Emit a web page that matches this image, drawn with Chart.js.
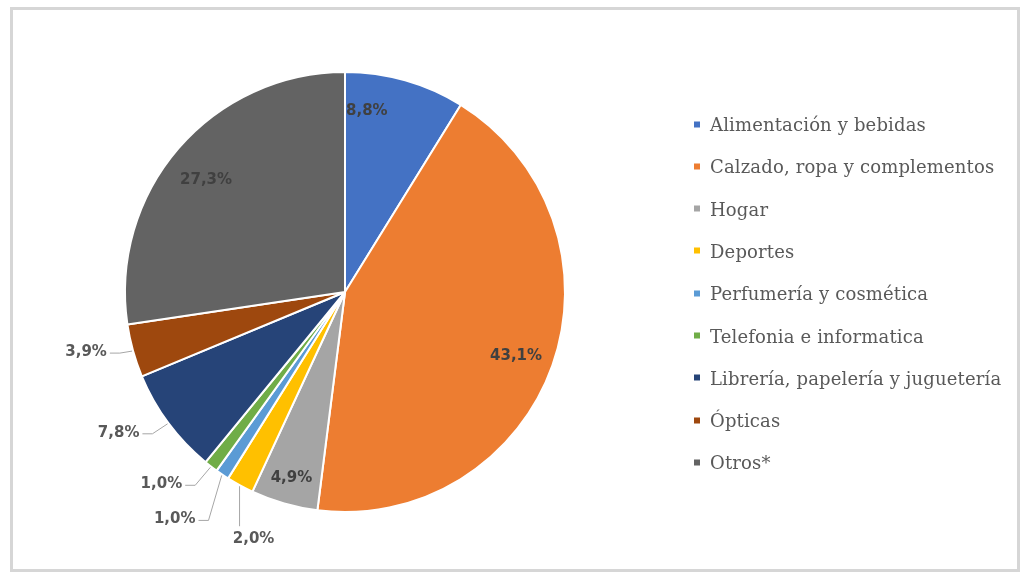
<!DOCTYPE html>
<html>
<head>
<meta charset="utf-8">
<script src="https://cdn.jsdelivr.net/npm/chart.js@4.4.1/dist/chart.umd.min.js"></script>
<style>
  html, body { margin: 0; padding: 0; background: #fff; }
  #wrap { position: relative; width: 1023px; height: 574px; overflow: hidden; background: #fff; }
  #frame { position: absolute; left: 10px; top: 7px; width: 1010px; height: 565px;
           box-sizing: border-box; border: 3px solid #d6d6d6; }
  #chart { position: absolute; left: 0; top: 0; }
  #legend { position: absolute; left: 694px; top: 0; font-family: "DejaVu Serif", serif;
            font-size: 18px; letter-spacing: 0.15px; color: #595959; }
  .item { position: absolute; left: 0; white-space: nowrap; display: flex; align-items: center;
          transform: translateY(-50%); }
  .sw { width: 6px; height: 6px; margin-right: 10px; flex: none; }
</style>
</head>
<body>
<div id="wrap">
  <div id="frame"></div>
  <canvas id="chart" width="1023" height="574"></canvas>
  <div id="legend"></div>
</div>
<script>
// Share of sales by retail sector (%)
const categories = [
  'Alimentación y bebidas',
  'Calzado, ropa y complementos',
  'Hogar',
  'Deportes',
  'Perfumería y cosmética',
  'Telefonia e informatica',
  'Librería, papelería y juguetería',
  'Ópticas',
  'Otros*'
];
const shares = [8.8, 43.1, 4.9, 2.0, 1.0, 1.0, 7.8, 3.9, 27.3];
const sliceColors = ['#4472C4', '#ED7D31', '#A5A5A5', '#FFC000', '#5B9BD5',
                     '#70AD47', '#264478', '#9E480E', '#636363'];

// Spanish-style percent text: 8.8 -> "8,8%"
const pct = v => v.toFixed(1).replace('.', ',') + '%';

// Where each value label goes: inside the slice (fraction of radius, small angle nudge in degrees)
// or outside, offset from the slice's outer edge with a leader line.
const labelPlacement = [
  { inside: true, r: 0.83, turn: -9 },
  { inside: true, r: 0.83, turn: 1 },
  { inside: true, r: 0.88, turn: 0 },
  { dx: 14, dy: 53 },
  { dx: -47, dy: 44 },
  { dx: -49, dy: 17 },
  { dx: -49, dy: 9 },
  { dx: -46, dy: 1 },
  { inside: true, r: 0.81, turn: -2 }
];

const sliceLabels = {
  id: 'sliceLabels',
  afterDatasetsDraw(chart) {
    const ctx = chart.ctx;
    const meta = chart.getDatasetMeta(0);
    ctx.save();
    ctx.font = 'bold 15px "DejaVu Sans"';
    ctx.textBaseline = 'middle';
    ctx.textAlign = 'center';
    meta.data.forEach((arc, i) => {
      const p = arc.getProps(['x', 'y', 'startAngle', 'endAngle', 'outerRadius'], true);
      const mid = (p.startAngle + p.endAngle) / 2;
      const place = labelPlacement[i];
      const text = pct(shares[i]);
      if (place.inside) {
        const a = mid + place.turn * Math.PI / 180;
        const r = p.outerRadius * place.r;
        ctx.fillStyle = '#404040';
        ctx.fillText(text, p.x + Math.cos(a) * r, p.y + Math.sin(a) * r);
        return;
      }
      const ax = p.x + Math.cos(mid) * (p.outerRadius + 1);
      const ay = p.y + Math.sin(mid) * (p.outerRadius + 1);
      const tx = ax + place.dx;
      const ty = ay + place.dy;
      const w = ctx.measureText(text).width;
      ctx.strokeStyle = '#a6a6a6';
      ctx.lineWidth = 1;
      ctx.beginPath();
      if (Math.abs(place.dx) < 20) {
        // label below the slice: straight drop to the text
        ctx.moveTo(ax, ay);
        ctx.lineTo(ax, ty - 13);
      } else {
        const ex = tx + w / 2 + 3;
        const ey = ty + 1;
        ctx.moveTo(ax, ay);
        ctx.lineTo(Math.min(ax, ex + 10), ey);
        ctx.lineTo(ex, ey);
      }
      ctx.stroke();
      ctx.fillStyle = '#595959';
      ctx.fillText(text, tx, ty);
    });
    ctx.restore();
  }
};

new Chart(document.getElementById('chart'), {
  type: 'pie',
  data: {
    labels: categories,
    datasets: [{
      data: shares,
      backgroundColor: sliceColors,
      borderColor: '#ffffff',
      borderWidth: 2
    }]
  },
  options: {
    responsive: false,
    devicePixelRatio: 1,
    animation: false,
    layout: { padding: { left: 124, top: 71, right: 457, bottom: 61 } },
    plugins: {
      legend: { display: false },
      tooltip: { enabled: false }
    }
  },
  plugins: [sliceLabels]
});

// Legend on the right
const legend = document.getElementById('legend');
categories.forEach((name, i) => {
  const item = document.createElement('div');
  item.className = 'item';
  item.style.top = (124 + i * 42.3) + 'px';
  const sw = document.createElement('span');
  sw.className = 'sw';
  sw.style.background = sliceColors[i];
  const label = document.createElement('span');
  label.textContent = name;
  item.appendChild(sw);
  item.appendChild(label);
  legend.appendChild(item);
});
</script>
</body>
</html>
